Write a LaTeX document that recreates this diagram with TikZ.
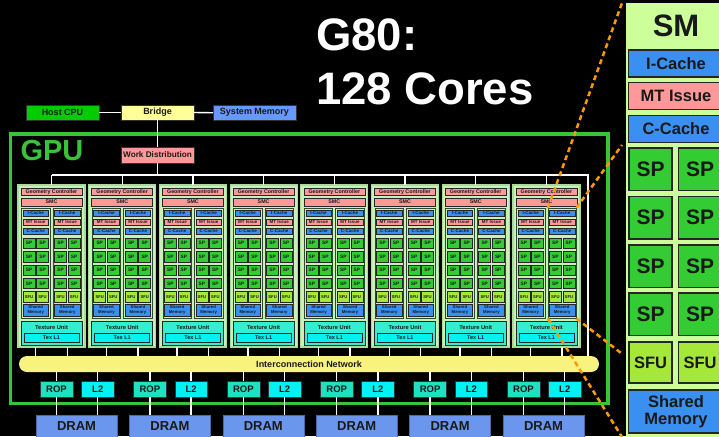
\documentclass[tikz,border=0pt]{standalone}
\usepackage{fontspec}
\setmainfont{Liberation Sans}
\definecolor{blueC}{HTML}{3A90F0}
\definecolor{pinkC}{HTML}{FF9999}
\definecolor{spG}{HTML}{33CC33}
\definecolor{sfuG}{HTML}{A6E83A}
\definecolor{panelG}{HTML}{CCFF99}
\definecolor{tpcG}{HTML}{C8F0B8}
\definecolor{tpcEdge}{HTML}{A8DC98}
\definecolor{smEdge}{HTML}{2E4A2E}
\definecolor{hostG}{HTML}{00CC00}
\definecolor{bridgeY}{HTML}{FFFF99}
\definecolor{sysB}{HTML}{6699FF}
\definecolor{dramB}{HTML}{6B96EE}
\definecolor{icY}{HTML}{F8F27E}
\definecolor{ropT}{HTML}{1FE0C0}
\definecolor{ltwoC}{HTML}{00F2F2}
\definecolor{texT}{HTML}{33EED0}
\definecolor{frameG}{HTML}{39C339}
\definecolor{orangeD}{HTML}{FF9900}
\newcommand{\myfs}[2]{\fontsize{#1}{#2}\selectfont\bfseries}
\newcommand{\bx}[7]{\node[#6, minimum width={((#4)-(#2))*1pt}, minimum height={((#5)-(#3))*1pt}] (#1) at ({((#2)+(#4))/2},{((#3)+(#5))/2}) {#7};}
\tikzset{
  base/.style={inner sep=0pt, outer sep=0pt, align=center, text=black!90},
  wire/.style={draw=white, line width=1.4pt},
  sbox/.style={base, draw=black!80, line width=0.6pt},
  tpcbox/.style={base, fill=tpcG, draw=tpcEdge, line width=1.2pt},
  smbox/.style={base, fill=tpcG, draw=smEdge, line width=0.8pt},
  tinybox/.style={base, draw=black!85, line width=0.5pt},
  bigbox/.style={base, draw=black!85, line width=1.8pt},
  odash/.style={draw=orangeD, line width=2.5pt, dash pattern=on 5pt off 3.5pt},
}
\begin{document}
\begin{tikzpicture}[x=1pt,y=-1pt]
\useasboundingbox (0,0) rectangle (719,436);
\clip (0,0) rectangle (719,436);
\fill[black] (0,0) rectangle (719,436);

% ---- SM detail panel ----
\bx{panel}{626}{3}{780}{480}{base,fill=panelG}{}
\node[base, font=\myfs{31}{32}, anchor=base] (smtitle) at (676,37) {SM};
\bx{picache}{628.5}{50}{723.5}{77}{bigbox,fill=blueC,font=\myfs{16.5}{17}}{I-Cache}
\bx{pmt}{628.5}{82.5}{723.5}{109.5}{bigbox,fill=pinkC,font=\myfs{16.5}{17}}{MT Issue}
\bx{pccache}{628.5}{115.5}{723.5}{142.5}{bigbox,fill=blueC,font=\myfs{16.5}{17}}{C-Cache}
\foreach \r/\yy in {0/148,1/196.5,2/245,3/293}{
  \bx{psa\r}{629}{\yy}{672}{\yy+42.5}{bigbox,fill=spG,font=\myfs{21}{22}}{SP}
  \bx{psb\r}{678.5}{\yy}{721.5}{\yy+42.5}{bigbox,fill=spG,font=\myfs{21}{22}}{SP}
}
\bx{psfua}{629}{342}{672}{383}{bigbox,fill=sfuG,font=\myfs{16.5}{17}}{SFU}
\bx{psfub}{678.5}{342}{721.5}{383}{bigbox,fill=sfuG,font=\myfs{16.5}{17}}{SFU}
\bx{pshm}{628.5}{390}{723.5}{433}{bigbox,fill=blueC,font=\myfs{16.5}{17}}{Shared\\Memory}

% ---- title ----
\node[base, text=white, font=\myfs{45.5}{48}, anchor=base west] (t1) at (316,50) {G80:};
\node[base, text=white, font=\myfs{45.5}{48}, anchor=base west] (t2) at (316,104) {128 Cores};

% ---- GPU frame ----
\bx{gpu}{10.5}{134}{608}{403.5}{base,draw=frameG,line width=3.5pt}{}
\node[base, text=frameG, font=\myfs{29}{30}, anchor=base west] (gpulabel) at (20.5,160) {GPU};

% ---- top boxes ----
\bx{host}{26}{105}{99}{120}{sbox,fill=hostG,font=\myfs{9}{10}}{Host CPU}
\bx{bridge}{121}{105}{194}{120}{sbox,fill=bridgeY,font=\myfs{9}{10}}{Bridge}
\bx{sysmem}{213}{105.5}{296}{120}{sbox,fill=sysB,font=\myfs{9}{10}}{System Memory}
\bx{wd}{121}{147}{194}{163}{sbox,fill=pinkC,font=\myfs{8.2}{9}}{Work Distribution}

% ---- TPCs ----
\foreach \i in {0,...,7}{
  \pgfmathsetmacro{\X}{18+70.7*\i}
  \bx{tpc\i}{\X}{185}{\X+67}{347}{tpcbox}{}
  \bx{gc\i}{\X+3}{188}{\X+64}{195.5}{tinybox,fill=pinkC,font=\myfs{5.3}{5.5}}{Geometry Controller}
  \bx{smc\i}{\X+3}{198}{\X+64}{206}{tinybox,fill=pinkC,font=\myfs{5.3}{5.5}}{SMC}
  \foreach \s/\sx in {l/3.5,r/35}{
    \pgfmathsetmacro{\S}{\X+\sx}
    \bx{sm\s\i}{\S}{208}{\S+28.5}{318.5}{smbox}{}
    \bx{icache\s\i}{\S+1.5}{210}{\S+27}{216.5}{tinybox,fill=blueC,font=\myfs{4.5}{4.7}}{I-Cache}
    \bx{mt\s\i}{\S+1.5}{219}{\S+27}{225.5}{tinybox,fill=pinkC,font=\myfs{4.5}{4.7}}{MT Issue}
    \bx{ccache\s\i}{\S+1.5}{228}{\S+27}{234.5}{tinybox,fill=blueC,font=\myfs{4.5}{4.7}}{C-Cache}
    \foreach \r in {0,...,3}{
      \pgfmathsetmacro{\Y}{238+13.4*\r}
      \bx{spa\s\r\i}{\S+1.5}{\Y}{\S+13.5}{\Y+10.5}{tinybox,fill=spG,font=\myfs{4.8}{5}}{SP}
      \bx{spb\s\r\i}{\S+15}{\Y}{\S+27}{\Y+10.5}{tinybox,fill=spG,font=\myfs{4.8}{5}}{SP}
    }
    \bx{sfua\s\i}{\S+1.5}{291.5}{\S+13.5}{302}{tinybox,fill=sfuG,font=\myfs{4.2}{4.4}}{SFU}
    \bx{sfub\s\i}{\S+15}{291.5}{\S+27}{302}{tinybox,fill=sfuG,font=\myfs{4.2}{4.4}}{SFU}
    \bx{shm\s\i}{\S+1.5}{304}{\S+27}{316.5}{tinybox,fill=blueC,font=\myfs{4.3}{4.8}}{Shared\\Memory}
  }
  \bx{tex\i}{\X+3}{321}{\X+64}{345}{tinybox,fill=texT}{}
  \node[base, font=\myfs{5.7}{6}] (texlab\i) at ({\X+33.5},327) {Texture Unit};
  \bx{texl\i}{\X+6}{333}{\X+61}{342.5}{tinybox,fill=ltwoC,font=\myfs{5.5}{6}}{Tex L1}
}

% ---- interconnect ----
\bx{net}{19}{356}{599}{372}{base,fill=icY,rounded corners=8pt,font=\myfs{9}{10}}{}
\node[base, font=\myfs{9}{10}] (netlab) at (309,364) {Interconnection Network};

% ---- ROP / L2 / DRAM ----
\foreach \j in {0,...,5}{
  \pgfmathsetmacro{\R}{40+93.4*\j}
  \bx{rop\j}{\R}{381}{\R+33}{397}{sbox,fill=ropT,font=\myfs{9.5}{10}}{ROP}
  \bx{ltwo\j}{\R+41.5}{381}{\R+74}{397}{sbox,fill=ltwoC,font=\myfs{9.5}{10}}{L2}
  \bx{dram\j}{\R-4}{415}{\R+77}{437}{sbox,fill=dramB,draw=dramB!70!black,font=\myfs{13}{14}}{DRAM}
}

% ---- connectors ----
\coordinate (bj) at (157.5,175);
\coordinate (bR) at (588,175);
\draw[wire] (host.east) -- (bridge.west);
\draw[wire] (bridge.east) -- (sysmem.west);
\draw[wire] (bridge.south) -- (wd.north);
\draw[wire] (wd.south) -- (bj);
\draw[wire] (tpc0.north |- bj) -- (bR) -- (bR |- net.north);
\foreach \i in {0,...,7}{
  \draw[wire] (tpc\i.north |- bj) -- (tpc\i.north);
  \draw[wire] (sml\i.south |- tpc\i.south) -- (sml\i.south |- net.north);
  \draw[wire] (smr\i.south |- tpc\i.south) -- (smr\i.south |- net.north);
}
\foreach \j in {0,...,5}{
  \draw[wire] (rop\j.north |- net.south) -- (rop\j.north);
  \draw[wire] (rop\j.south) -- (rop\j.south |- dram\j.north);
  \draw[wire] (ltwo\j.north |- net.south) -- (ltwo\j.north);
  \draw[wire] (ltwo\j.south) -- (ltwo\j.south |- dram\j.north);
}

% ---- zoom lines ----
\coordinate (o1) at (622,3);
\coordinate (o2) at (622,145);
\coordinate (o3) at (621,353);
\coordinate (o4) at (622,437);
\draw[odash] (smr7.north west) -- (o1);
\draw[odash] (smr7.north east) -- (o2);
\draw[odash] (smr7.south east) -- (o3);
\draw[odash] (smr7.south west) -- (o4);
\end{tikzpicture}
\end{document}
